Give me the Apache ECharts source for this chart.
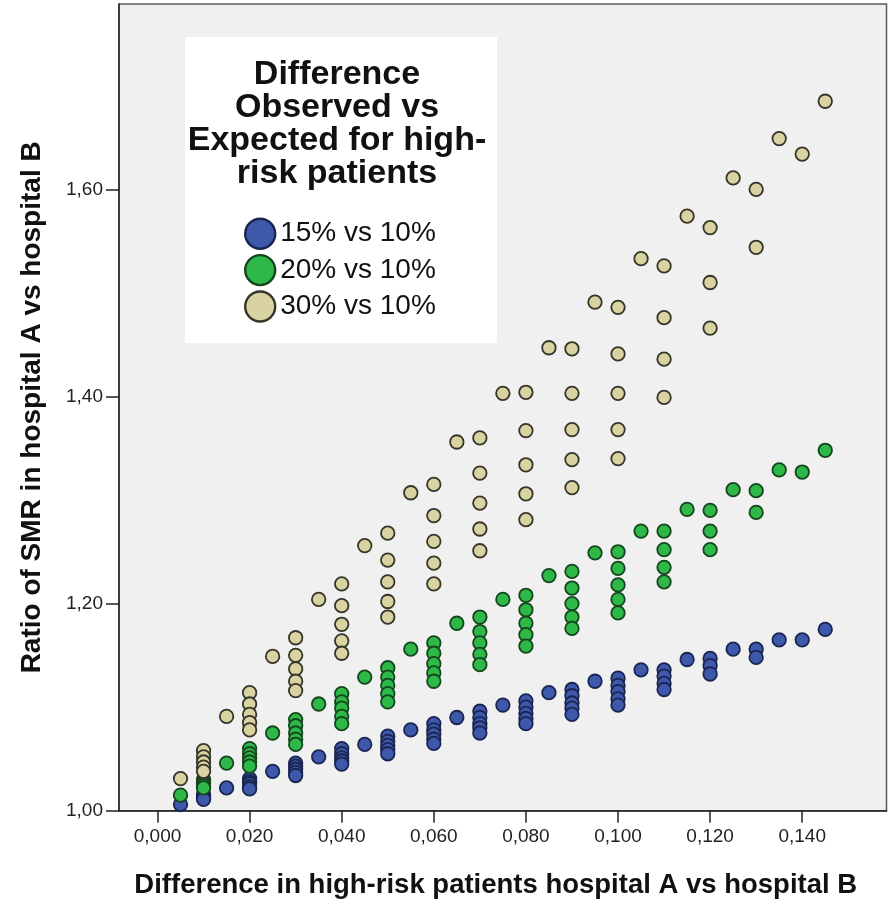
<!DOCTYPE html>
<html>
<head>
<meta charset="utf-8">
<script src="https://cdn.jsdelivr.net/npm/echarts@6/dist/echarts.min.js"></script>
<style>
html,body{margin:0;padding:0;background:#fff;}
#c{width:891px;height:901px;}
</style>
</head>
<body>
<div id="c"></div>
<script>
// ---- data ----
const seriesNames = ['15% vs 10%', '20% vs 10%', '30% vs 10%'];
const xTicks = [0, 0.02, 0.04, 0.06, 0.08, 0.10, 0.12, 0.14];
const yTicks = [1.0, 1.2, 1.4, 1.6];
const legendTitle = ['Difference', 'Observed vs', 'Expected for high-', 'risk patients'];
const xTitle = 'Difference in high-risk patients hospital A vs hospital B';
const yTitle = 'Ratio of SMR in hospital A vs hospital B';

const blue15 = [
  [0.005,1.006],
  [0.01,1.016],[0.01,1.014],[0.01,1.013],[0.01,1.012],[0.01,1.011],
  [0.015,1.022],
  [0.02,1.031],[0.02,1.028],[0.02,1.026],[0.02,1.023],[0.02,1.021],
  [0.025,1.038],
  [0.03,1.046],[0.03,1.043],[0.03,1.040],[0.03,1.037],[0.03,1.034],
  [0.035,1.052],
  [0.04,1.060],[0.04,1.055],[0.04,1.051],[0.04,1.048],[0.04,1.045],
  [0.045,1.064],
  [0.05,1.072],[0.05,1.067],[0.05,1.063],[0.05,1.059],[0.05,1.055],
  [0.055,1.078],
  [0.06,1.084],[0.06,1.078],[0.06,1.074],[0.06,1.069],[0.06,1.065],
  [0.065,1.090],
  [0.07,1.096],[0.07,1.090],[0.07,1.084],[0.07,1.080],[0.07,1.075],
  [0.075,1.102],
  [0.08,1.106],[0.08,1.100],[0.08,1.094],[0.08,1.089],[0.08,1.084],
  [0.085,1.114],
  [0.09,1.117],[0.09,1.111],[0.09,1.104],[0.09,1.099],[0.09,1.093],
  [0.095,1.125],
  [0.10,1.128],[0.10,1.121],[0.10,1.115],[0.10,1.108],[0.10,1.102],
  [0.105,1.136],
  [0.11,1.136],[0.11,1.130],[0.11,1.123],[0.11,1.117],
  [0.115,1.146],
  [0.12,1.147],[0.12,1.140],[0.12,1.132],
  [0.125,1.156],
  [0.13,1.156],[0.13,1.148],
  [0.135,1.165],
  [0.14,1.165],
  [0.145,1.175]
];

const green20 = [
  [0.005,1.015],
  [0.01,1.030],[0.01,1.028],[0.01,1.026],[0.01,1.024],[0.01,1.022],
  [0.015,1.046],
  [0.02,1.060],[0.02,1.055],[0.02,1.051],[0.02,1.047],[0.02,1.043],
  [0.025,1.075],
  [0.03,1.088],[0.03,1.082],[0.03,1.075],[0.03,1.069],[0.03,1.064],
  [0.035,1.103],
  [0.04,1.113],[0.04,1.105],[0.04,1.099],[0.04,1.091],[0.04,1.084],
  [0.045,1.129],
  [0.05,1.138],[0.05,1.129],[0.05,1.121],[0.05,1.113],[0.05,1.105],
  [0.055,1.156],
  [0.06,1.162],[0.06,1.152],[0.06,1.142],[0.06,1.133],[0.06,1.125],
  [0.065,1.181],
  [0.07,1.187],[0.07,1.173],[0.07,1.162],[0.07,1.151],[0.07,1.141],
  [0.075,1.204],
  [0.08,1.208],[0.08,1.194],[0.08,1.181],[0.08,1.170],[0.08,1.159],
  [0.085,1.227],
  [0.09,1.231],[0.09,1.215],[0.09,1.200],[0.09,1.187],[0.09,1.176],
  [0.095,1.249],
  [0.10,1.250],[0.10,1.234],[0.10,1.218],[0.10,1.204],[0.10,1.191],
  [0.105,1.270],
  [0.11,1.270],[0.11,1.252],[0.11,1.235],[0.11,1.221],
  [0.115,1.291],
  [0.12,1.290],[0.12,1.270],[0.12,1.252],
  [0.125,1.310],
  [0.13,1.309],[0.13,1.288],
  [0.135,1.329],
  [0.14,1.327],
  [0.145,1.348]
];

const tan30 = [
  [0.005,1.031],
  [0.01,1.058],[0.01,1.052],[0.01,1.047],[0.01,1.042],[0.01,1.038],
  [0.015,1.091],
  [0.02,1.114],[0.02,1.103],[0.02,1.093],[0.02,1.085],[0.02,1.078],
  [0.025,1.149],
  [0.03,1.167],[0.03,1.150],[0.03,1.137],[0.03,1.125],[0.03,1.116],
  [0.035,1.204],
  [0.04,1.219],[0.04,1.198],[0.04,1.180],[0.04,1.164],[0.04,1.152],
  [0.045,1.256],
  [0.05,1.268],[0.05,1.242],[0.05,1.221],[0.05,1.202],[0.05,1.187],
  [0.055,1.307],
  [0.06,1.315],[0.06,1.285],[0.06,1.260],[0.06,1.239],[0.06,1.219],
  [0.065,1.356],
  [0.07,1.360],[0.07,1.326],[0.07,1.297],[0.07,1.272],[0.07,1.251],
  [0.075,1.403],
  [0.08,1.404],[0.08,1.367],[0.08,1.334],[0.08,1.306],[0.08,1.281],
  [0.085,1.447],
  [0.09,1.446],[0.09,1.403],[0.09,1.368],[0.09,1.339],[0.09,1.312],
  [0.095,1.491],
  [0.10,1.486],[0.10,1.441],[0.10,1.403],[0.10,1.368],[0.10,1.340],
  [0.105,1.533],
  [0.11,1.526],[0.11,1.476],[0.11,1.436],[0.11,1.399],
  [0.115,1.574],
  [0.12,1.563],[0.12,1.510],[0.12,1.466],
  [0.125,1.611],
  [0.13,1.600],[0.13,1.544],
  [0.135,1.649],
  [0.14,1.634],
  [0.145,1.685]
];

const FONT = "'Liberation Sans', Arial, sans-serif";
const chart = echarts.init(document.getElementById('c'), null, {renderer: 'canvas'});

function mkSeries(name, data, fill, border) {
  return {
    name: name, type: 'scatter', data: data,
    symbol: 'circle', symbolSize: 13.5,
    itemStyle: {color: fill, borderColor: border, borderWidth: 1.8, opacity: 1},
    emphasis: {disabled: true},
    animation: false
  };
}

const option = {
  animation: false,
  backgroundColor: '#ffffff',
  grid: {
    left: 119, top: 4, right: 4.5, bottom: 90.3,
    outerBoundsMode: 'none', containLabel: false,
    show: true, backgroundColor: '#f0f0f0',
    borderColor: '#5a5a5a', borderWidth: 1.5
  },
  xAxis: {
    type: 'value',
    min: -0.00836, max: 0.1583,
    name: xTitle, nameLocation: 'middle', nameGap: 61,
    nameTextStyle: {fontFamily: FONT, fontWeight: 'bold', fontSize: 27.5, color: '#111', padding: [0, 14, 0, 0]},
    axisLine: {show: true, onZero: false, lineStyle: {color: '#222', width: 1.5}},
    axisTick: {show: true, length: 12, customValues: xTicks, lineStyle: {color: '#222', width: 1.5}},
    axisLabel: {
      customValues: xTicks, margin: 17,
      fontFamily: FONT, fontSize: 19, color: '#222',
      formatter: v => v.toFixed(3).replace('.', ',')
    },
    splitLine: {show: false}
  },
  yAxis: {
    type: 'value',
    min: 1.0, max: 1.7789,
    name: yTitle, nameLocation: 'middle', nameGap: 73, nameRotate: 90,
    nameTextStyle: {fontFamily: FONT, fontWeight: 'bold', fontSize: 28, color: '#111'},
    axisLine: {show: true, onZero: false, lineStyle: {color: '#222', width: 1.5}},
    axisTick: {show: true, length: 13, customValues: yTicks, lineStyle: {color: '#222', width: 1.5}},
    axisLabel: {
      customValues: yTicks, margin: 16,
      fontFamily: FONT, fontSize: 19, color: '#222',
      formatter: v => v.toFixed(2).replace('.', ',')
    },
    splitLine: {show: false}
  },
  legend: {
    show: true, orient: 'vertical',
    left: 239, top: 212.5,
    itemWidth: 30, itemHeight: 30, itemGap: 4,
    icon: 'circle',
    z: 20,
    selectedMode: false,
    data: seriesNames,
    itemStyle: {borderWidth: 2.4},
    textStyle: {fontFamily: FONT, fontSize: 28, color: '#111'}
  },
  graphic: [
    {
      type: 'rect', z: 5,
      shape: {x: 185, y: 37, width: 312, height: 306},
      style: {fill: '#ffffff'}
    },
    {
      type: 'text', z: 6,
      x: 337, y: 58.5,
      style: {
        text: legendTitle.join('\n'),
        fontFamily: FONT, fontWeight: 'bold', fontSize: 34,
        lineHeight: 33, fill: '#111',
        align: 'center', verticalAlign: 'top'
      }
    }
  ],
  series: [
    mkSeries(seriesNames[0], blue15, '#3E58AC', '#1b2650'),
    mkSeries(seriesNames[1], green20, '#2EB848', '#15461e'),
    mkSeries(seriesNames[2], tan30, '#D8D3A0', '#35352a')
  ]
};
chart.setOption(option);
</script>
</body>
</html>
